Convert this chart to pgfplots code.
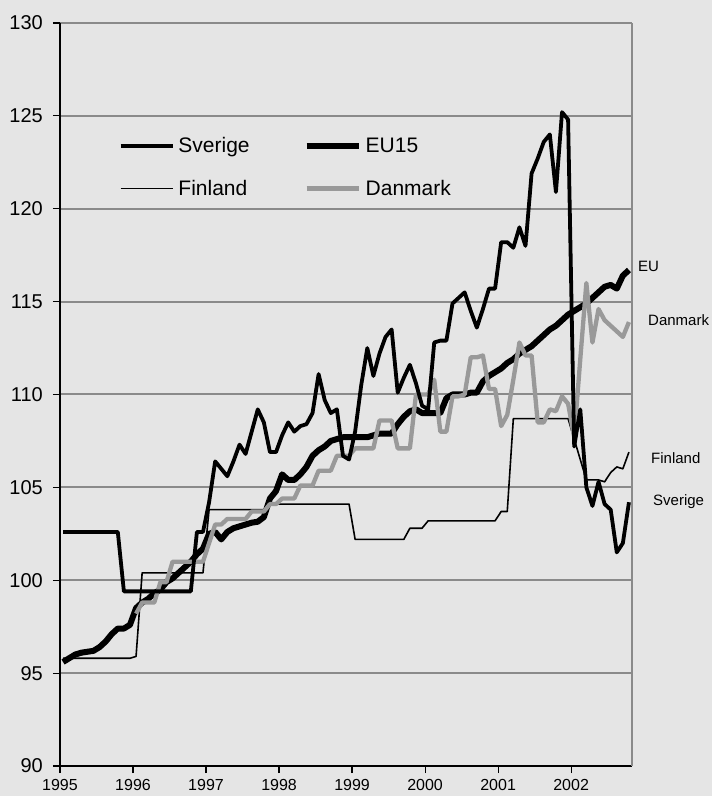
\documentclass[border=0pt]{standalone}
\usepackage{fontspec}
\setmainfont{Liberation Sans}
\usepackage{pgfplots}
\usepackage{pgfplotstable}
\pgfplotsset{compat=1.18}
\definecolor{bg}{HTML}{E5E5E5}
\definecolor{gridc}{HTML}{8A8A8A}
\definecolor{dkgray}{HTML}{999999}
\pgfplotsset{legend image code/.code={\draw[#1] (0pt,0pt) -- (52pt,0pt);}}
\pgfplotstableread{
v
102.6
102.6
102.6
102.6
102.6
102.6
102.6
102.6
102.6
102.6
99.4
99.4
99.4
99.4
99.4
99.4
99.4
99.4
99.4
99.4
99.4
99.4
102.6
102.6
104.2
106.4
106.0
105.6
106.4
107.3
106.8
108.0
109.2
108.5
106.9
106.9
107.8
108.5
108.0
108.3
108.4
109.0
111.1
109.7
109.0
109.2
106.7
106.5
108.0
110.5
112.5
111.0
112.2
113.1
113.5
110.1
110.9
111.6
110.6
109.4
109.2
112.8
112.9
112.9
114.9
115.2
115.5
114.5
113.6
114.6
115.7
115.7
118.2
118.2
117.9
119.0
118.0
121.9
122.7
123.6
124.0
120.9
125.2
124.8
107.2
109.2
105.0
104.0
105.3
104.1
103.8
101.5
102.0
104.2
}\sverige
\pgfplotstableread{
v
95.6
95.8
96.0
96.1
96.15
96.2
96.4
96.7
97.1
97.4
97.4
97.6
98.5
98.8
99.0
99.3
99.5
99.9
100.1
100.4
100.7
101.0
101.4
101.7
102.5
102.6
102.2
102.6
102.8
102.9
103.0
103.1
103.15
103.4
104.4
104.8
105.7
105.4
105.4
105.7
106.1
106.7
107.0
107.2
107.5
107.6
107.7
107.7
107.7
107.7
107.7
107.8
107.9
107.9
107.9
108.4
108.8
109.1
109.2
109.0
109.0
109.0
109.0
109.8
110.0
110.0
110.0
110.1
110.1
110.7
111.0
111.2
111.4
111.7
111.9
112.2
112.4
112.6
112.9
113.2
113.5
113.7
114.0
114.3
114.5
114.7
114.9
115.2
115.5
115.8
115.9
115.7
116.4
116.7
}\eu
\pgfplotstableread{
v
95.8
95.8
95.8
95.8
95.8
95.8
95.8
95.8
95.8
95.8
95.8
95.8
95.9
100.4
100.4
100.4
100.4
100.4
100.4
100.4
100.4
100.4
100.4
100.4
103.8
103.8
103.8
103.8
103.8
103.8
103.8
103.8
103.8
103.8
104.1
104.1
104.1
104.1
104.1
104.1
104.1
104.1
104.1
104.1
104.1
104.1
104.1
104.1
102.2
102.2
102.2
102.2
102.2
102.2
102.2
102.2
102.2
102.8
102.8
102.8
103.2
103.2
103.2
103.2
103.2
103.2
103.2
103.2
103.2
103.2
103.2
103.2
103.7
103.7
108.7
108.7
108.7
108.7
108.7
108.7
108.7
108.7
108.7
108.7
107.6
106.5
105.4
105.4
105.4
105.3
105.8
106.1
106.0
106.9
}\finland
\pgfplotstableread{
v
98.2
98.8
98.8
98.8
99.9
99.9
101.0
101.0
101.0
101.0
101.0
101.0
102.0
103.0
103.0
103.3
103.3
103.3
103.3
103.7
103.7
103.7
104.1
104.1
104.4
104.4
104.4
105.1
105.1
105.1
105.9
105.9
105.9
106.7
106.7
106.7
107.1
107.1
107.1
107.1
108.6
108.6
108.6
107.1
107.1
107.1
110.0
110.0
110.0
110.8
108.0
108.0
109.9
109.9
110.0
112.0
112.0
112.1
110.3
110.3
108.3
108.9
110.8
112.8
112.1
112.1
108.5
108.5
109.2
109.1
109.9
109.5
107.7
111.9
116.0
112.8
114.6
114.0
113.7
113.4
113.1
113.9
}\danmark
\begin{document}
\begin{tikzpicture}
\fill[bg] (-60pt,-30pt) rectangle (652pt,766pt);
\begin{axis}[
  at={(0pt,0pt)}, anchor=south west,
  scale only axis, width=572pt, height=743pt,
  xmin=0, xmax=94, ymin=90, ymax=130,
  axis lines=left,
  axis line style={-, black, line width=1.4pt},
  xtick={0,12,24,36,48,60,72,84},
  xticklabels={1995,1996,1997,1998,1999,2000,2001,2002},
  ytick={90,95,100,105,110,115,120,125,130},
  ymajorgrids,
  grid style={gridc, line width=2pt},
  tick align=outside,
  major tick length=7pt,
  tick style={black, line width=1.2pt},
  /pgf/number format/assume math mode=true,
  yticklabel style={font=\fontsize{20}{24}\selectfont, inner sep=0pt, xshift=-10pt},
  xticklabel style={font=\fontsize{16}{19}\selectfont, inner sep=0pt, yshift=-6pt},
  clip=false,
  legend columns=2,
  legend cell align=left,
  legend style={draw=none, fill=none, at={(0.097,0.849)}, anchor=north west,
    font=\fontsize{21}{25}\selectfont, row sep=26pt, column sep=4pt,
    nodes={inner sep=0pt},
    /tikz/every even column/.append style={column sep=54pt}},
  line join=round,
]
\addplot[forget plot, black, line width=6pt] table[x expr=\coordindex+0.5, y=v] {\eu};
\addplot[forget plot, black, line width=1.6pt] table[x expr=\coordindex+0.5, y=v] {\finland};
\addplot[forget plot, dkgray, line width=4.3pt] table[x expr=\coordindex+12.5, y=v] {\danmark};
\addplot[forget plot, black, line width=3.8pt] table[x expr=\coordindex+0.5, y=v] {\sverige};
\draw[gridc, line width=2pt] (rel axis cs:1,0) -- (rel axis cs:1,1);
\addlegendimage{black, line width=3.8pt}
\addlegendentry{Sverige}
\addlegendimage{black, line width=6pt}
\addlegendentry{EU15}
\addlegendimage{black, line width=1.6pt}
\addlegendentry{Finland}
\addlegendimage{dkgray, line width=4.3pt}
\addlegendentry{Danmark}
\node[anchor=west, inner sep=0pt, xshift=6pt, font=\fontsize{15}{18}\selectfont] at (axis cs:94,116.88) {EU};
\node[anchor=west, inner sep=0pt, xshift=16pt, font=\fontsize{15}{18}\selectfont] at (axis cs:94,114.01) {Danmark};
\node[anchor=west, inner sep=0pt, xshift=19pt, font=\fontsize{15}{18}\selectfont] at (axis cs:94,106.58) {Finland};
\node[anchor=west, inner sep=0pt, xshift=21pt, font=\fontsize{15}{18}\selectfont] at (axis cs:94,104.23) {Sverige};
\end{axis}
\end{tikzpicture}
\end{document}
